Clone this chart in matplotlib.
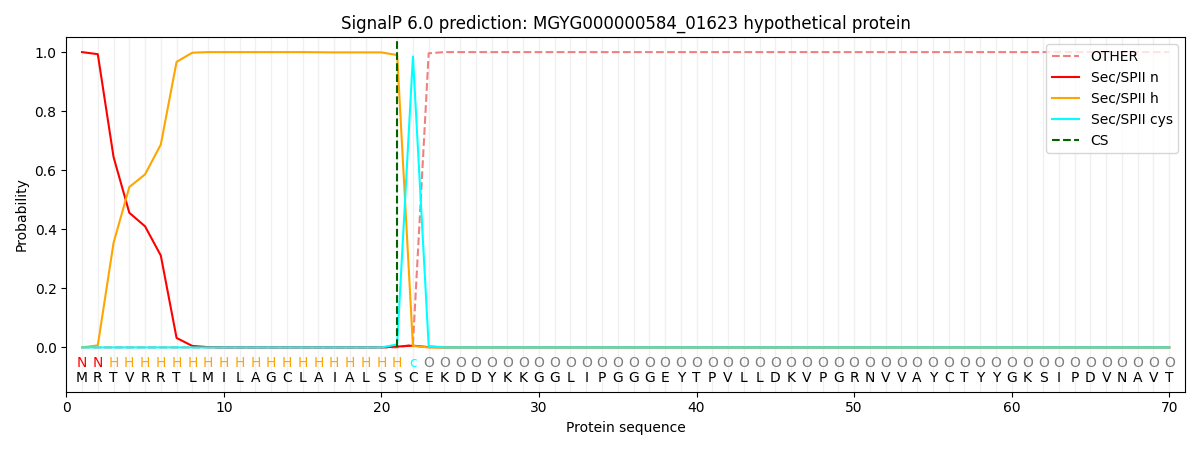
import numpy as np
import matplotlib
matplotlib.use("Agg")
import matplotlib.pyplot as plt

sequence = list("MRTVRRTLMILAGCLAIALSSCEKDDYKKGGLIPGGGEYTPVLLDKVPGRNVVAYCTYYGKSIPDVNAVT")
region_labels = ["N", "N"] + ["H"] * 19 + ["c"] + ["O"] * 48
label_colors = {"N": "red", "H": "orange", "c": "cyan", "O": "gray"}

n_pos = len(sequence)

other = [0.0] * 21 + [0.01, 0.996] + [1.0] * 47
sec_n = [1.0, 0.993, 0.645, 0.456, 0.41, 0.311, 0.032, 0.005, 0.001, 0.0,
         0.0, 0.0, 0.0, 0.0, 0.0, 0.0, 0.0, 0.0, 0.0, 0.0,
         0.003, 0.006, 0.001] + [0.0] * 47
sec_h = [0.0, 0.007, 0.354, 0.543, 0.586, 0.687, 0.967, 0.998, 1.0, 1.0,
         1.0, 1.0, 1.0, 1.0, 1.0, 0.9995, 0.999, 0.999, 0.999, 0.999,
         0.99, 0.005, 0.0] + [0.0] * 47
sec_cys = [0.0] * 19 + [0.0, 0.01, 0.985, 0.005] + [0.0] * 47
cs_position = 21
cs_top = 1.04

x = np.arange(1, n_pos + 1)

fig, ax = plt.subplots(figsize=(12, 4.5), dpi=100)
for xi in x:
    ax.axvline(xi, color="#e6e6e6", lw=1, alpha=0.6, zorder=0)

ax.plot(x, other, color="#f08080", ls="--", lw=1.5, label="OTHER")
ax.plot(x, sec_n, color="red", lw=1.5, label="Sec/SPII n")
ax.plot(x, sec_h, color="orange", lw=1.5, label="Sec/SPII h")
ax.plot(x, sec_cys, color="cyan", lw=1.5, label="Sec/SPII cys")
ax.vlines(cs_position, 0, cs_top, color="darkgreen", ls="--", lw=1.5, label="CS")

for xi, aa, lab in zip(x, sequence, region_labels):
    ax.text(xi, -0.052, lab, color=label_colors[lab], ha="center", va="center", fontsize=10)
    ax.text(xi, -0.103, aa, color="black", ha="center", va="center", fontsize=10)

ax.set_xlim(0, 71)
ax.set_ylim(-0.15, 1.05)
ax.set_yticks([0.0, 0.2, 0.4, 0.6, 0.8, 1.0])
ax.set_xlabel("Protein sequence")
ax.set_ylabel("Probability")
ax.set_title("SignalP 6.0 prediction: MGYG000000584_01623 hypothetical protein")
ax.legend(loc="upper right")
fig.tight_layout()
fig.savefig("out.png")
